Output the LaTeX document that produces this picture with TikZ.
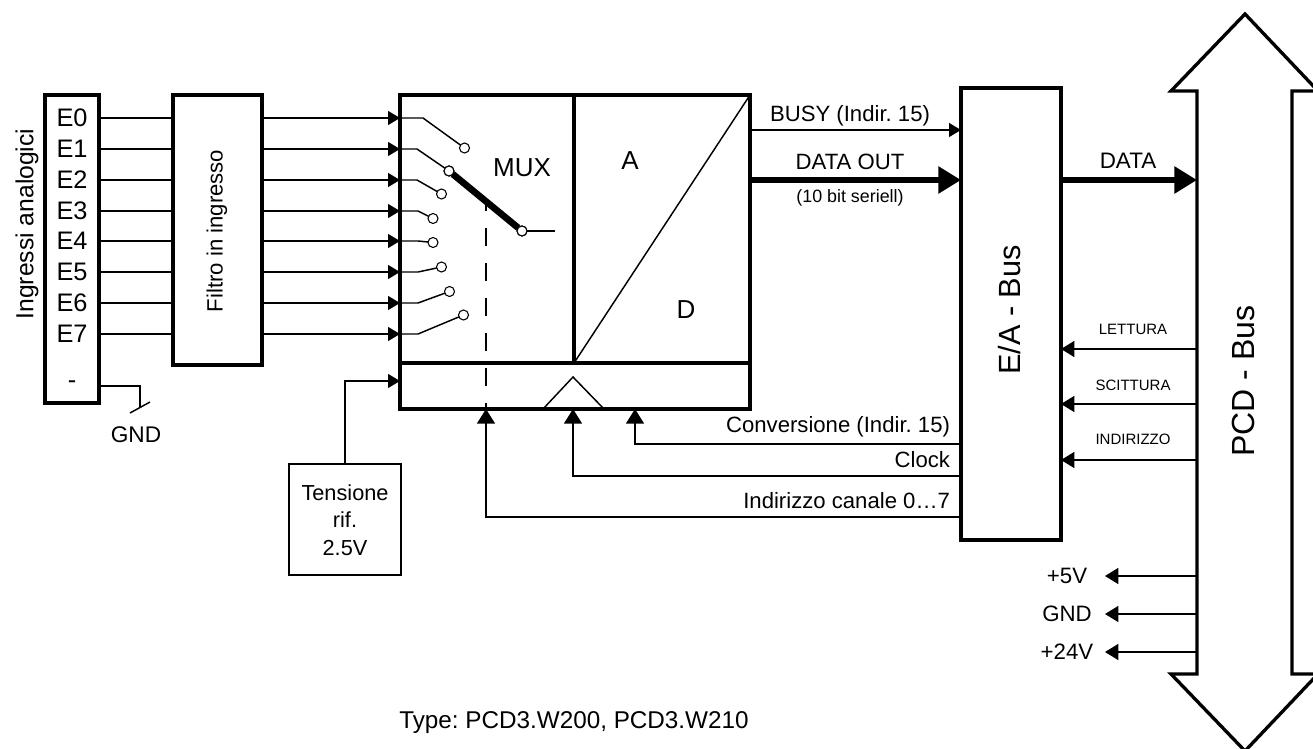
\documentclass[tikz,border=0pt]{standalone}
\usepackage{fontspec}
\setmainfont{Liberation Sans}
\usetikzlibrary{arrows.meta,calc}
\newcommand{\fs}[1]{\fontsize{#1pt}{#1pt}\selectfont}
\frenchspacing
\tikzset{
  heavy/.style={line width=2.5pt,line join=miter},
  thin line/.style={line width=1.1pt},
  boxnode/.style={draw,heavy,inner sep=0pt,outer sep=0pt,fill=white},
  tbox/.style={draw,line width=1.5pt,inner sep=0pt,outer sep=0pt,align=center},
  sig/.style={thin line,-{Triangle[length=9pt,width=10.5pt]}},
  upsig/.style={thin line,-{Triangle[length=11pt,width=13.5pt]}},
  leftsig/.style={thin line,-{Triangle[length=10pt,width=12pt]}},
  fat/.style={line width=4.8pt,-{Triangle[length=17pt,width=19.5pt]}},
  swc/.style={circle,draw,line width=0.8pt,fill=white,minimum size=7.5pt,inner sep=0pt,outer sep=0pt},
  lab/.style={inner sep=0pt,outer sep=0pt},
}
\begin{document}
\begin{tikzpicture}[x=0.75pt,y=-0.75pt]
\useasboundingbox (0,0) rectangle (1313,749);
\clip (0,0) rectangle (1313,749);
\fill[white] (0,0) rectangle (1313,749);
% rows
\foreach \i/\yy in {0/118,1/149,2/180,3/211,4/241,5/272,6/303,7/334}{
  \coordinate (r\i) at (0,\yy);
}
\coordinate (rgnd) at (0,386);
\coordinate (rref) at (0,381);
% boxes
\node[boxnode,minimum width=40.5pt,minimum height=231pt] (inp) at (72,249) {};
\node[boxnode,minimum width=66.75pt,minimum height=202.5pt] (filt) at (217.5,230) {};
\node[boxnode,minimum width=262.5pt,minimum height=235.5pt] (mux) at (575,252) {};
\node[boxnode,minimum width=75pt,minimum height=339pt] (eabus) at (1011,314) {};
\node[tbox,minimum width=84pt,minimum height=83.25pt] (tens) at (345,519.5) {};
\node[lab,align=center,font=\fs{16.3}] (tenstxt) at (345,520) {Tensione\\[4.3pt]rif.\\[4.3pt]2.5V};
% input labels
\foreach \i in {0,...,7}{
  \node[lab,font=\fs{19}] (e\i) at (inp.center |- r\i) {E\i};
  \draw[thin line] (inp.east |- r\i) -- (filt.west |- r\i);
  \draw[sig] (filt.east |- r\i) -- (mux.west |- r\i);
}
\node[lab,font=\fs{19}] (eneg) at (72,385) {-};
\node[lab,font=\fs{18.5},rotate=90] (ingr) at (27,224) {Ingressi analogici};
\node[lab,font=\fs{16.6},rotate=90] (filttxt) at (217,231) {Filtro in ingresso};
% GND
\coordinate (gndk) at (140,386);
\coordinate (gndt) at (140,407);
\coordinate (gnda) at (130,413);
\coordinate (gndb) at (150,402);
\draw[thin line] (inp.east |- rgnd) -- (gndk) -- (gndt);
\draw[thin line] (gnda) -- (gndb);
\node[lab,font=\fs{17}] (gndtxt) at (136,435) {GND};
% mux interior
\coordinate (divtop) at (574,95);
\coordinate (divbot) at (574,363);
\draw[heavy] (divtop) -- (divbot);
\coordinate (hl) at (400,363);
\coordinate (hr) at (750,363);
\draw[heavy] (hl) -- (hr);
\coordinate (dtr) at (750,95);
\draw[line width=1.1pt] (divbot) -- (dtr);
\node[lab,font=\fs{19.5}] (muxtxt) at (522,168) {MUX};
\node[lab,font=\fs{19.5}] (atxt) at (630,161) {A};
\node[lab,font=\fs{19.5}] (dtxt) at (686,310) {D};
% triangle
\coordinate (t1) at (543,409);
\coordinate (t2) at (573,377);
\coordinate (t3) at (604,409);
\draw[line width=1.1pt] (t1) -- (t2) -- (t3);
% switches
\foreach \i/\kx/\cx/\cy in {0/423/464.5/148,1/417/449/171,2/417/441.5/194,3/418/433/218.5,4/418/433/242.5,5/418/441.5/267,6/418/449.5/291.5,7/418/463.5/315}{
  \coordinate (k\i) at (\kx,0);
  \node[swc] (s\i) at (\cx,\cy) {};
  \draw[thin line] (mux.west |- r\i) -- (k\i |- r\i) -- (s\i);
}
% dashed control
\coordinate (dtop) at (486,205);
\coordinate (dbot) at (486,408);
\draw[line width=1.1pt,dash pattern=on 13.5pt off 12.75pt,dash phase=9pt] (dtop) -- (dbot);
% wiper
\node[swc] (wip) at (522,231) {};
\coordinate (wout) at (555,231);
\draw[line width=0.8pt] (wip) -- (wout);
\draw[line width=5pt] (s1) -- (wip);
\node[swc] at (s1) {};
\node[swc] at (wip) {};
% reference
\draw[sig] (tens.north) |- (mux.west |- rref);
% bottom controls
\coordinate (c1) at (635,409);
\coordinate (c2) at (573,409);
\coordinate (c3) at (486,409);
\coordinate (lconv) at (0,444);
\coordinate (lclk) at (0,476);
\coordinate (lidx) at (0,517);
\draw[upsig] (eabus.west |- lconv) -| (c1);
\draw[upsig] (eabus.west |- lclk) -| (c2);
\draw[upsig] (eabus.west |- lidx) -| (c3);
\node[lab,font=\fs{16.6},anchor=east] (tconv) at (950,427) {Conversione (Indir. 15)};
\node[lab,font=\fs{16.6},anchor=east] (tclk) at (950,460) {Clock};
\node[lab,font=\fs{16.6},anchor=east] (tidx) at (950,501) {Indirizzo canale 0…7};
% right of mux
\coordinate (lbusy) at (0,130);
\coordinate (ldata) at (0,180);
\draw[sig] (mux.east |- lbusy) -- (eabus.west |- lbusy);
\draw[fat] (mux.east |- ldata) -- (eabus.west |- ldata);
\node[lab,font=\fs{16.6}] (tbusy) at (850,116) {BUSY (Indir. 15)};
\node[lab,font=\fs{16.6}] (tdo) at (850,162) {DATA OUT};
\node[lab,font=\fs{13.4}] (tbit) at (850,198) {(10 bit seriell)};
\node[lab,font=\fs{23},rotate=90] (teab) at (1010,310) {E/A - Bus};
% PCD bus arrow
\coordinate (bl) at (1197,0);
\draw[heavy] (1197,674) -- (1171,674) -- (1245,751) -- (1318,674) -- (1292,674) -- (1292,91) -- (1318,91) -- (1245,14) -- (1171,91) -- (1197,91) -- cycle;
\node[lab,font=\fs{24},rotate=90] (tpcd) at (1243,381) {PCD - Bus};
% bus connections
\draw[fat] (eabus.east |- ldata) -- (bl |- ldata);
\node[lab,font=\fs{16.8}] (tdata) at (1128,161) {DATA};
\foreach \n/\yy/\tyy/\t in {rd/349/329/LETTURA,wr/404/385/SCITTURA,ad/460/439/INDIRIZZO}{
  \coordinate (l\n) at (0,\yy);
  \draw[leftsig] (bl |- l\n) -- (eabus.east |- l\n);
  \node[lab,font=\fs{11.25}] (t\n) at (1133,\tyy) {\t};
}
\coordinate (ptip) at (1105,0);
\foreach \n/\yy/\t in {pa/576/+5V,pb/614/GND,pc/652/+24V}{
  \coordinate (l\n) at (0,\yy);
  \draw[leftsig] (bl |- l\n) -- (ptip |- l\n);
  \node[lab,font=\fs{16.7}] (t\n) at (1067,\yy) {\t};
}
\node[lab,font=\fs{18.2}] (ttype) at (574,723) {Type: PCD3.W200, PCD3.W210};
\end{tikzpicture}
\end{document}
